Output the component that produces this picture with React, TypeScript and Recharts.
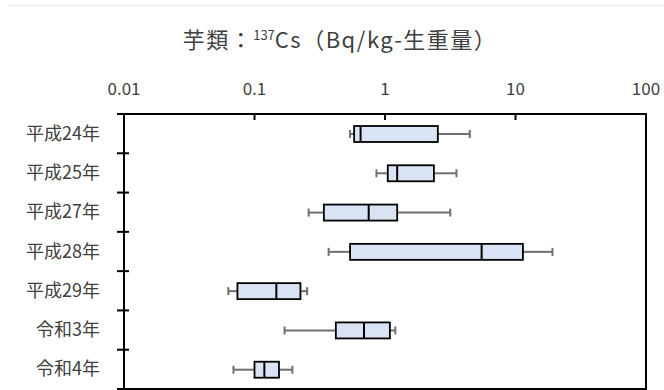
import React from 'react';
import { BarChart, Bar, XAxis, YAxis, ReferenceArea } from 'recharts';

// 芋類 137Cs 箱ひげ図（対数軸）
const YEARS = ['平成24年', '平成25年', '平成27年', '平成28年', '平成29年', '令和3年', '令和4年'];
const MIN_VALUES = [0.54, 0.86, 0.26, 0.37, 0.063, 0.17, 0.069];
const Q1_VALUES = [0.58, 1.05, 0.34, 0.54, 0.074, 0.42, 0.1];
const MEDIAN_VALUES = [0.65, 1.24, 0.75, 5.5, 0.147, 0.69, 0.119];
const Q3_VALUES = [2.54, 2.37, 1.24, 11.4, 0.225, 1.09, 0.154];
const MAX_VALUES = [4.46, 3.53, 3.16, 19.2, 0.253, 1.2, 0.195];
const X_TICKS = [0.01, 0.1, 1, 10, 100];

const FONT = '"Noto Sans CJK JP", "Noto Sans", sans-serif';
const TEXT_COLOR = '#404040';

const PLOT_LEFT = 124;
const PLOT_TOP = 114;
const PLOT_BOTTOM = 389;

const data = YEARS.map((year, i) => ({
  year,
  range: [MIN_VALUES[i], MAX_VALUES[i]],
  q1: Q1_VALUES[i],
  median: MEDIAN_VALUES[i],
  q3: Q3_VALUES[i],
}));

// bar rect spans min..max, other positions from the same log scale
const BoxShape = (props: any) => {
  const { x, y, width, height, payload } = props;
  const [lo, hi] = payload.range;
  const l0 = Math.log10(lo);
  const k = width / (Math.log10(hi) - l0);
  const px = (v: number) => x + (Math.log10(v) - l0) * k;
  const cy = y + height / 2;
  const xq1 = px(payload.q1);
  const xq3 = px(payload.q3);
  const xm = px(payload.median);
  const cap = 4;
  return (
    <g>
      <line x1={x} y1={cy} x2={xq1} y2={cy} stroke="#707070" strokeWidth={2} />
      <line x1={xq3} y1={cy} x2={x + width} y2={cy} stroke="#707070" strokeWidth={2} />
      <line x1={x} y1={cy - cap} x2={x} y2={cy + cap} stroke="#707070" strokeWidth={2} />
      <line x1={x + width} y1={cy - cap} x2={x + width} y2={cy + cap} stroke="#707070" strokeWidth={2} />
      <rect x={xq1} y={y} width={xq3 - xq1} height={height} fill="#dae3f3" stroke="#000" strokeWidth={1.8} />
      <line x1={xm} y1={y} x2={xm} y2={y + height} stroke="#000" strokeWidth={2} />
    </g>
  );
};

const XTick = (props: any) => {
  const { x, y, payload } = props;
  const inner = payload.value > 0.01 && payload.value < 100;
  return (
    <g>
      <text x={x} y={y} textAnchor="middle" fontSize={17} fill={TEXT_COLOR} fontFamily={FONT}>
        {payload.value}
      </text>
      {inner && <line x1={x} y1={PLOT_TOP} x2={x} y2={PLOT_TOP + 6} stroke="#000" strokeWidth={2} />}
    </g>
  );
};

const YTick = (props: any) => {
  const { y, payload, index } = props;
  const band = (PLOT_BOTTOM - PLOT_TOP) / YEARS.length;
  const top = y - band / 2;
  return (
    <g>
      <text x={100} y={y + 6} textAnchor="end" fontSize={18} fill={TEXT_COLOR} fontFamily={FONT}>
        {payload.value}
      </text>
      <line x1={PLOT_LEFT - 7} y1={top} x2={PLOT_LEFT + 5} y2={top} stroke="#000" strokeWidth={2} />
      {index === YEARS.length - 1 && (
        <line x1={PLOT_LEFT - 7} y1={y + band / 2} x2={PLOT_LEFT + 5} y2={y + band / 2} stroke="#000" strokeWidth={2} />
      )}
    </g>
  );
};

export default function App() {
  return (
    <div style={{ position: 'absolute', left: 0, top: 0, width: 664, height: 390, background: '#fff', fontFamily: FONT }}>
      <div style={{ position: 'absolute', left: 9, right: 0, top: 5, height: 1, background: '#e6e6e6' }} />
      <div
        style={{
          position: 'absolute',
          left: 0,
          width: 680,
          top: 22,
          textAlign: 'center',
          fontSize: 22,
          letterSpacing: 1.5,
          color: TEXT_COLOR,
          whiteSpace: 'nowrap',
        }}
      >
        芋類：<sup style={{ fontSize: 13, letterSpacing: 0 }}>137</sup>Cs（Bq/kg-生重量）
      </div>
      <BarChart
        width={664}
        height={390}
        data={data}
        layout="vertical"
        margin={{ top: 60, right: 18, bottom: 1, left: 0 }}
        barSize={16}
      >
        <XAxis
          type="number"
          dataKey="median"
          orientation="top"
          scale="log"
          domain={[0.01, 100]}
          ticks={X_TICKS}
          allowDataOverflow
          height={54}
          tickSize={0}
          tickMargin={19}
          axisLine={{ stroke: '#000', strokeWidth: 2 }}
          tickLine={false}
          tick={<XTick />}
          interval={0}
        />
        <YAxis
          type="category"
          dataKey="year"
          width={124}
          tickSize={0}
          axisLine={{ stroke: '#000', strokeWidth: 2 }}
          tickLine={false}
          tick={<YTick />}
          interval={0}
        />
        <ReferenceArea x1={0.01} x2={100} fill="none" stroke="#000" strokeWidth={2} ifOverflow="visible" />
        <Bar dataKey="range" shape={<BoxShape />} isAnimationActive={false} />
      </BarChart>
    </div>
  );
}
